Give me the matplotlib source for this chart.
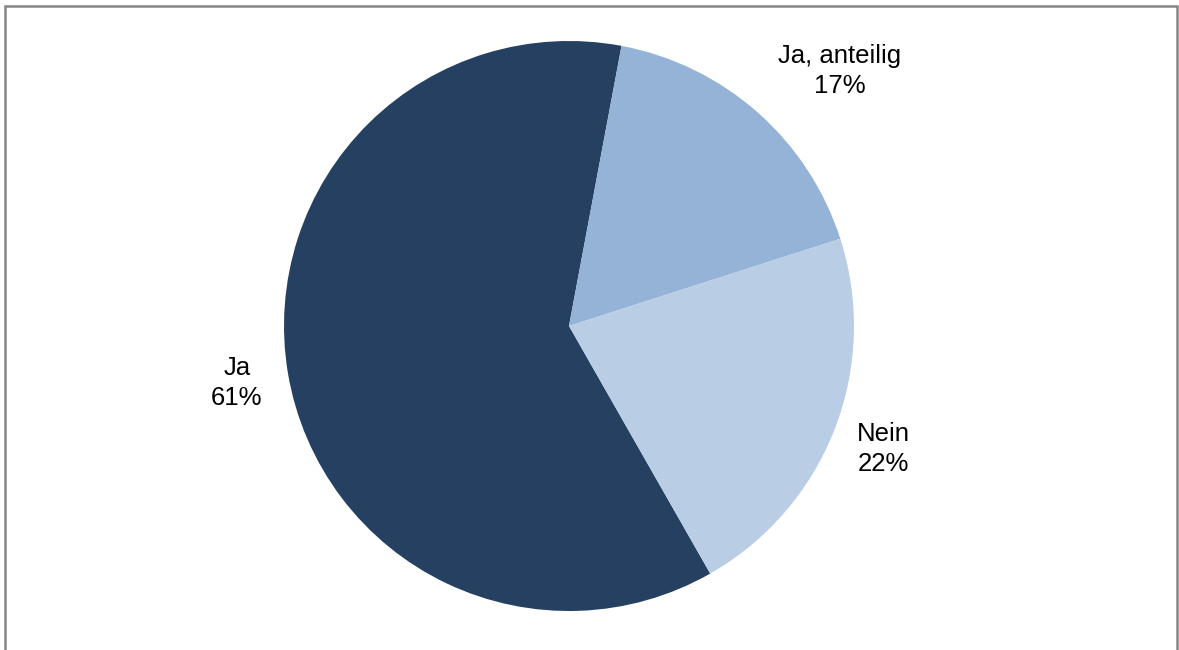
import matplotlib.pyplot as plt
from matplotlib.patches import Rectangle

# Anteile der Antworten (in %)
kategorien = ['Ja', 'Ja, anteilig', 'Nein']
anteile = [61.2, 17.1, 21.7]
farben = ['#264061', '#95B3D7', '#B9CDE5']

# Lage der Beschriftungen (Pixel im Bild, von oben links)
label_pos = [(237, 383), (840, 71), (883, 449)]

W, H = 1179, 650
cx, cy, r = 569, 326, 285

plt.rcParams['font.family'] = ['Liberation Sans', 'DejaVu Sans']

fig = plt.figure(figsize=(W / 100, H / 100), dpi=100)
ax = fig.add_axes([0, 0, 1, 1])

ax.pie(anteile, colors=farben, startangle=-60.3, counterclock=False,
       radius=1, center=(0, 0), wedgeprops={'linewidth': 0})

ax.set_xlim(-cx / r, (W - cx) / r)
ax.set_ylim(-(H - cy) / r, cy / r)
ax.axis('off')

for name, wert, (px, py) in zip(kategorien, anteile, label_pos):
    ax.text(px / W, 1 - py / H, f'{name}\n{wert:.0f}%', transform=fig.transFigure,
            ha='center', va='center', fontsize=18.5, linespacing=1.28,
            color='black')

# Rahmen
rahmen = Rectangle((4.5 / W, -0.05), (1177 - 4.5) / W, 1.05 - 5.5 / H,
                   transform=fig.transFigure, fill=False, edgecolor='#868686',
                   linewidth=1.8)
fig.patches.append(rahmen)

fig.savefig('out.png', dpi=100)
